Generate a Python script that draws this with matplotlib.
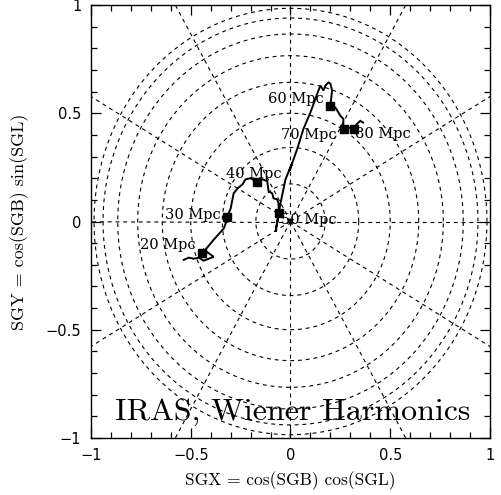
import numpy as np
import matplotlib
matplotlib.use("Agg")
import matplotlib.pyplot as plt
from matplotlib.ticker import MultipleLocator

# ---- data ----
path_x = [-0.535, -0.51, -0.485, -0.46, -0.435, -0.385, -0.435, -0.4415,
          -0.385, -0.335, -0.325, -0.3165, -0.30, -0.285, -0.265, -0.24,
          -0.225, -0.20, -0.1665, -0.1415, -0.1165, -0.11, -0.0915, -0.085,
          -0.0665, -0.06, -0.0585, -0.075, -0.05, -0.025, 0.0085, -0.005,
          0.005, 0.0335, 0.065, 0.10, 0.125, 0.14, 0.15, 0.165, 0.175, 0.19,
          0.20, 0.2085, 0.20, 0.225, 0.24, 0.25, 0.265, 0.265, 0.2665, 0.29,
          0.3165, 0.3335, 0.35, 0.3635]
path_y = [-0.177, -0.167, -0.172, -0.167, -0.181, -0.163, -0.130, -0.147,
          -0.084, -0.033, -0.009, 0.023, 0.060, 0.130, 0.153, 0.172,
          0.195, 0.200, 0.181, 0.195, 0.186, 0.140, 0.130, 0.107,
          0.102, 0.084, 0.039, -0.047, 0.085, 0.195, 0.271, 0.235,
          0.26, 0.335, 0.428, 0.504, 0.567, 0.605, 0.628, 0.605, 0.628, 0.642,
          0.637, 0.605, 0.535, 0.527, 0.504, 0.488, 0.474, 0.442, 0.429, 0.434,
          0.429, 0.451, 0.465, 0.457]

marker_labels = ["20 Mpc", "30 Mpc", "40 Mpc", "50 Mpc", "60 Mpc", "70 Mpc", "80 Mpc"]
marker_x = [-0.4415, -0.3165, -0.1665, -0.0585, 0.20, 0.2665, 0.3165]
marker_y = [-0.147, 0.023, 0.181, 0.039, 0.535, 0.429, 0.429]
label_x = [-0.475, -0.35, -0.325, -0.05, -0.115, -0.05, 0.325]
label_y = [-0.107, 0.028, 0.219, 0.009, 0.567, 0.400, 0.405]
label_ha = ["right", "right", "left", "left", "left", "left", "left"]

sgb_circles = [10, 20, 30, 40, 50, 60, 70, 80]      # degrees, radius = cos(SGB)
sgl_spokes = list(range(0, 360, 30))                 # degrees

title_text = "IRAS, Wiener Harmonics"
xlabel_text = "SGX = cos(SGB) cos(SGL)"
ylabel_text = "SGY = cos(SGB) sin(SGL)"
tick_vals = [-1, -0.5, 0, 0.5, 1]
tick_labels = ["\u22121", "\u22120.5", "0", "0.5", "1"]

# ---- figure ----
fig = plt.figure(figsize=(5.02, 4.95), dpi=100)
ax = fig.add_axes([91/502, 57/495, 399/502, 433/495])
ax.set_xlim(-1, 1)
ax.set_ylim(-1, 1)

grid_kw = dict(color="black", lw=0.8, ls=(0, (3.5, 3.5)), zorder=1)
t = np.linspace(0, 2*np.pi, 721)
for b in sgb_circles:
    r = np.cos(np.radians(b))
    ax.plot(r*np.cos(t), r*np.sin(t), **grid_kw)
for l in sgl_spokes:
    a = np.radians(l)
    ax.plot([0, 1.6*np.cos(a)], [0, 1.6*np.sin(a)], **grid_kw)

ax.plot(path_x, path_y, color="black", lw=1.4, zorder=3, solid_joinstyle="miter")
ax.plot(marker_x, marker_y, ls="none", marker="s", ms=5.5, color="black", zorder=4)
for s, x, y, ha in zip(marker_labels, label_x, label_y, label_ha):
    ax.text(x, y, s, ha=ha, va="center", fontsize=10.5, family="DejaVu Serif", zorder=5)

ax.text(0.01, -0.88, title_text, ha="center", va="center", fontsize=23,
        family="cmr10", zorder=5)

ax.set_xticks(tick_vals)
ax.set_xticklabels(tick_labels)
ax.set_yticks(tick_vals)
ax.set_yticklabels(tick_labels)
ax.xaxis.set_minor_locator(MultipleLocator(0.1))
ax.yaxis.set_minor_locator(MultipleLocator(0.1))
ax.tick_params(which="both", direction="in", top=True, right=True, width=0.9)
ax.tick_params(which="major", length=7, labelsize=10.5, pad=7)
ax.tick_params(which="minor", length=4)
for lab in ax.get_xticklabels() + ax.get_yticklabels():
    lab.set_family("DejaVu Sans")
for sp in ax.spines.values():
    sp.set_linewidth(1.0)

ax.set_xlabel(xlabel_text, fontsize=12.5, family="cmr10", labelpad=6)
ax.set_ylabel(ylabel_text, fontsize=13, family="cmr10", labelpad=12)

fig.savefig("out.png", dpi=100)
